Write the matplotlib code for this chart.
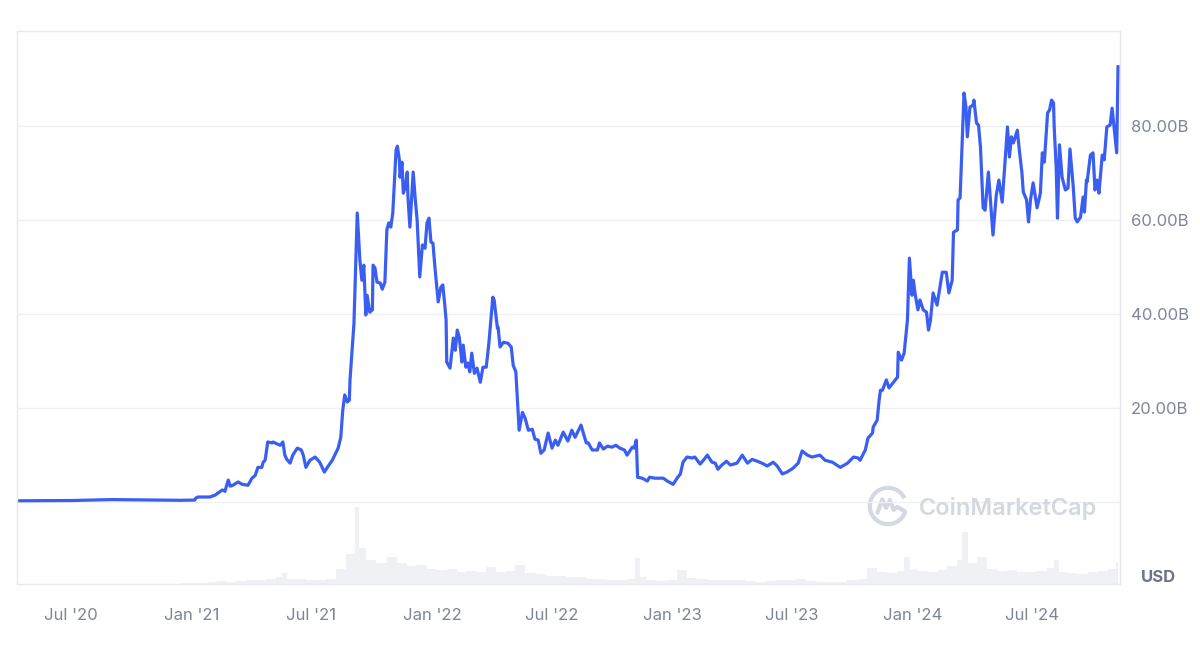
import matplotlib
matplotlib.use("Agg")
import matplotlib.pyplot as plt
import matplotlib.dates as mdates
from matplotlib.patches import Arc
import numpy as np
import pandas as pd

plt.rcParams["font.family"] = ["Inter", "DejaVu Sans"]

# market cap, billions USD
price_dates = [
    "2020-04-10", "2020-07-01", "2020-09-01", "2020-11-01", "2020-12-14", "2021-01-05",
    "2021-01-07", "2021-01-10", "2021-01-28", "2021-02-05", "2021-02-16", "2021-02-20",
    "2021-02-25", "2021-02-28", "2021-03-04", "2021-03-12", "2021-03-18", "2021-03-27",
    "2021-04-02", "2021-04-07", "2021-04-11", "2021-04-17", "2021-04-19", "2021-04-22",
    "2021-04-26", "2021-05-03", "2021-05-04", "2021-05-15", "2021-05-19", "2021-05-22",
    "2021-05-25", "2021-05-30", "2021-06-03", "2021-06-10", "2021-06-16", "2021-06-19",
    "2021-06-23", "2021-06-29", "2021-07-07", "2021-07-14", "2021-07-21", "2021-07-27",
    "2021-08-02", "2021-08-08", "2021-08-11", "2021-08-15", "2021-08-18", "2021-08-21",
    "2021-08-25", "2021-08-28", "2021-08-29", "2021-09-01", "2021-09-04", "2021-09-09",
    "2021-09-13", "2021-09-16", "2021-09-19", "2021-09-22", "2021-09-24", "2021-09-28",
    "2021-10-02", "2021-10-03", "2021-10-06", "2021-10-09", "2021-10-14", "2021-10-17",
    "2021-10-21", "2021-10-24", "2021-10-27", "2021-10-30", "2021-11-02", "2021-11-07",
    "2021-11-09", "2021-11-12", "2021-11-13", "2021-11-16", "2021-11-18", "2021-11-21",
    "2021-11-24", "2021-11-25", "2021-11-28", "2021-12-03", "2021-12-06", "2021-12-09",
    "2021-12-13", "2021-12-17", "2021-12-21", "2021-12-24", "2021-12-27", "2021-12-30",
    "2022-01-02", "2022-01-05", "2022-01-10", "2022-01-14", "2022-01-17", "2022-01-20",
    "2022-01-22", "2022-01-23", "2022-01-28", "2022-02-02", "2022-02-05", "2022-02-08",
    "2022-02-11", "2022-02-15", "2022-02-17", "2022-02-21", "2022-02-24", "2022-02-27",
    "2022-03-02", "2022-03-06", "2022-03-10", "2022-03-15", "2022-03-19", "2022-03-24",
    "2022-03-28", "2022-04-03", "2022-04-05", "2022-04-10", "2022-04-11", "2022-04-14",
    "2022-04-19", "2022-04-26", "2022-05-01", "2022-05-04", "2022-05-08", "2022-05-13",
    "2022-05-18", "2022-05-22", "2022-05-27", "2022-06-02", "2022-06-06", "2022-06-11",
    "2022-06-15", "2022-06-20", "2022-06-26", "2022-07-02", "2022-07-07", "2022-07-11",
    "2022-07-19", "2022-07-26", "2022-08-01", "2022-08-06", "2022-08-15", "2022-08-23",
    "2022-08-26", "2022-09-01", "2022-09-09", "2022-09-12", "2022-09-18", "2022-09-24",
    "2022-10-01", "2022-10-07", "2022-10-13", "2022-10-20", "2022-10-24", "2022-11-01",
    "2022-11-04", "2022-11-07", "2022-11-09", "2022-11-16", "2022-11-24", "2022-11-27",
    "2022-12-06", "2022-12-10", "2022-12-18", "2022-12-24", "2023-01-02", "2023-01-08",
    "2023-01-13", "2023-01-17", "2023-01-23", "2023-01-31", "2023-02-04", "2023-02-12",
    "2023-02-18", "2023-02-23", "2023-03-02", "2023-03-07", "2023-03-11", "2023-03-17",
    "2023-03-24", "2023-03-30", "2023-04-09", "2023-04-17", "2023-04-25", "2023-05-02",
    "2023-05-10", "2023-05-17", "2023-05-25", "2023-06-03", "2023-06-09", "2023-06-17",
    "2023-06-24", "2023-07-03", "2023-07-11", "2023-07-17", "2023-07-25", "2023-08-01",
    "2023-08-13", "2023-08-21", "2023-09-01", "2023-09-13", "2023-09-24", "2023-10-03",
    "2023-10-10", "2023-10-13", "2023-10-21", "2023-10-25", "2023-11-01", "2023-11-02",
    "2023-11-08", "2023-11-11", "2023-11-13", "2023-11-16", "2023-11-22", "2023-11-26",
    "2023-12-09", "2023-12-10", "2023-12-15", "2023-12-19", "2023-12-24", "2023-12-27",
    "2023-12-31", "2024-01-02", "2024-01-05", "2024-01-09", "2024-01-12", "2024-01-17",
    "2024-01-22", "2024-01-25", "2024-01-28", "2024-02-01", "2024-02-07", "2024-02-15",
    "2024-02-21", "2024-02-25", "2024-03-01", "2024-03-03", "2024-03-09", "2024-03-10",
    "2024-03-13", "2024-03-19", "2024-03-22", "2024-03-24", "2024-03-28", "2024-04-02",
    "2024-04-03", "2024-04-07", "2024-04-10", "2024-04-13", "2024-04-17", "2024-04-20",
    "2024-04-25", "2024-05-02", "2024-05-07", "2024-05-11", "2024-05-16", "2024-05-24",
    "2024-05-27", "2024-05-30", "2024-06-02", "2024-06-08", "2024-06-11", "2024-06-15",
    "2024-06-17", "2024-06-22", "2024-06-25", "2024-06-28", "2024-07-02", "2024-07-08",
    "2024-07-13", "2024-07-16", "2024-07-19", "2024-07-24", "2024-07-27", "2024-07-30",
    "2024-08-02", "2024-08-03", "2024-08-06", "2024-08-08", "2024-08-11", "2024-08-15",
    "2024-08-20", "2024-08-24", "2024-08-27", "2024-09-01", "2024-09-04", "2024-09-07",
    "2024-09-12", "2024-09-16", "2024-09-18", "2024-09-21", "2024-09-22", "2024-09-27",
    "2024-10-01", "2024-10-04", "2024-10-07", "2024-10-10", "2024-10-15", "2024-10-18",
    "2024-10-22", "2024-10-27", "2024-10-30", "2024-11-02", "2024-11-06", "2024-11-08",
]
market_cap = [
    0.3, 0.35, 0.55, 0.45, 0.4, 0.45,
    0.9, 1.1, 1.1, 1.5, 2.6, 2.3,
    4.7, 3.4, 3.6, 4.3, 3.8, 3.6,
    5.1, 5.7, 7.4, 7.4, 8.5, 8.9,
    12.8, 12.6, 12.8, 12.1, 12.8, 10.0,
    9.1, 8.3, 10.0, 11.5, 11.1, 10.0,
    7.4, 8.9, 9.6, 8.5, 6.4, 7.7,
    8.9, 10.6, 11.5, 13.8, 19.6, 22.8,
    21.3, 21.7, 26.0, 32.0, 38.0, 61.5,
    51.5, 47.2, 50.4, 39.8, 44.0, 40.4,
    40.9, 50.4, 49.8, 46.8, 46.6, 45.3,
    46.8, 57.9, 59.4, 58.5, 61.5, 74.9,
    75.7, 72.8, 69.1, 72.3, 65.7, 67.0,
    70.2, 64.9, 58.5, 70.2, 64.7, 60.0,
    47.9, 54.7, 54.0, 59.4, 60.4, 55.3,
    55.1, 50.0, 42.6, 45.7, 46.2, 42.0,
    38.7, 29.8, 28.5, 34.9, 32.3, 36.6,
    35.1, 29.8, 33.4, 28.7, 29.6, 27.7,
    31.7, 27.4, 28.5, 25.5, 28.7, 28.7,
    33.8, 43.6, 43.0, 37.0, 37.2, 33.0,
    34.0, 33.8, 33.0, 29.1, 27.7, 15.3,
    19.1, 17.9, 15.3, 15.5, 13.4, 13.2,
    10.4, 11.1, 14.7, 11.5, 13.2, 12.1,
    14.9, 13.0, 15.3, 13.8, 16.4, 12.6,
    12.6, 11.1, 11.1, 12.6, 11.3, 11.9,
    11.7, 12.1, 11.5, 11.1, 10.0, 11.7,
    11.5, 13.2, 5.3, 5.1, 4.5, 5.3,
    5.1, 5.1, 5.1, 4.5, 3.8, 5.1,
    6.0, 8.5, 9.6, 9.4, 9.6, 8.1,
    9.1, 10.0, 8.5, 8.3, 7.0, 7.9,
    8.7, 7.9, 8.3, 10.0, 8.3, 9.1,
    8.7, 8.3, 7.7, 8.5, 7.7, 6.0,
    6.4, 7.2, 8.3, 10.9, 10.0, 9.6,
    10.0, 8.9, 8.5, 7.4, 8.3, 9.6,
    9.4, 8.9, 11.1, 13.6, 14.7, 16.0,
    17.4, 21.7, 23.8, 23.8, 26.0, 24.3,
    26.6, 31.9, 30.2, 31.7, 38.7, 51.9,
    44.0, 47.2, 44.0, 40.9, 43.0, 40.9,
    40.4, 36.6, 38.7, 44.5, 41.9, 48.9,
    48.9, 44.5, 47.2, 57.4, 57.9, 64.3,
    64.7, 87.0, 84.0, 77.7, 84.0, 84.5,
    85.5, 80.6, 80.2, 75.5, 62.6, 62.1,
    70.2, 56.8, 65.3, 68.5, 63.8, 79.8,
    73.4, 77.7, 76.4, 79.1, 74.9, 70.0,
    66.0, 64.3, 59.6, 64.3, 67.9, 62.6,
    65.7, 74.3, 72.3, 82.8, 83.4, 85.5,
    84.9, 79.8, 71.3, 60.4, 76.0, 69.1,
    66.4, 66.8, 75.1, 67.0, 60.4, 59.6,
    60.6, 64.9, 61.7, 68.5, 68.1, 73.8,
    74.3, 66.4, 68.5, 65.7, 73.8, 72.8,
    79.8, 80.2, 83.8, 79.8, 74.3, 92.6,
]

# 24h volume, billions USD (relative heights)
volume_dates = [
    "2020-04-15", "2020-06-01", "2020-08-01", "2020-10-01", "2020-12-01",
    "2021-01-01", "2021-01-15", "2021-02-01", "2021-02-15", "2021-03-01", "2021-03-15",
    "2021-04-01", "2021-04-15", "2021-05-01", "2021-05-15", "2021-05-20", "2021-06-01",
    "2021-06-15", "2021-07-01", "2021-07-15", "2021-08-01", "2021-08-15", "2021-09-01",
    "2021-09-09", "2021-09-15", "2021-10-01", "2021-10-15", "2021-11-01", "2021-11-15",
    "2021-12-01", "2021-12-15", "2022-01-01", "2022-01-15", "2022-02-01", "2022-02-15",
    "2022-03-01", "2022-03-15", "2022-04-01", "2022-04-15", "2022-05-01", "2022-05-12",
    "2022-06-01", "2022-06-15", "2022-07-01", "2022-07-15", "2022-08-01", "2022-08-15",
    "2022-09-01", "2022-09-15", "2022-10-01", "2022-10-15", "2022-11-01", "2022-11-09",
    "2022-11-15", "2022-12-01", "2022-12-15", "2023-01-01", "2023-01-15", "2023-02-01",
    "2023-02-15", "2023-03-01", "2023-03-15", "2023-04-01", "2023-04-15", "2023-05-01",
    "2023-05-15", "2023-06-01", "2023-06-15", "2023-07-01", "2023-07-15", "2023-08-01",
    "2023-08-15", "2023-09-01", "2023-09-15", "2023-10-01", "2023-10-15", "2023-11-01",
    "2023-11-15", "2023-12-01", "2023-12-15", "2023-12-23", "2024-01-01", "2024-01-15",
    "2024-02-01", "2024-02-15", "2024-03-01", "2024-03-15", "2024-03-18", "2024-04-01",
    "2024-04-15", "2024-05-01", "2024-05-15", "2024-06-01", "2024-06-15", "2024-07-01",
    "2024-07-15", "2024-08-01", "2024-08-05", "2024-08-15", "2024-09-01", "2024-09-15",
    "2024-10-01", "2024-10-15", "2024-11-01", "2024-11-08",
]
volume = [
    0.02, 0.02, 0.03, 0.03, 0.05,
    0.1, 0.2, 0.3, 0.5, 0.4, 0.5,
    0.6, 0.7, 0.8, 1.2, 1.8, 0.9,
    0.8, 0.7, 0.6, 0.9, 2.5, 5.0,
    12.8, 6.0, 4.0, 3.5, 4.5, 3.5,
    3.0, 3.2, 2.5, 2.3, 2.5, 2.0,
    2.2, 2.0, 2.8, 2.0, 2.2, 3.2,
    1.8, 1.6, 1.4, 1.3, 1.2, 1.1,
    0.9, 0.8, 0.7, 0.6, 0.8, 4.3,
    1.2, 0.6, 0.5, 0.6, 2.3, 1.0,
    0.8, 0.7, 0.6, 0.6, 0.7, 0.5,
    0.4, 0.5, 0.6, 0.6, 0.8, 0.5,
    0.4, 0.4, 0.4, 0.6, 0.9, 2.6,
    2.0, 1.8, 2.2, 4.5, 2.5, 2.2,
    2.0, 2.3, 3.0, 4.0, 8.7, 3.5,
    4.5, 2.5, 2.2, 2.4, 2.0, 2.0,
    2.2, 2.6, 4.0, 2.0, 1.8, 1.7,
    2.0, 2.2, 2.5, 3.6,
]

y_ticks = [0, 20, 40, 60, 80]
x_ticks = ["2020-07-01", "2021-01-01", "2021-07-01", "2022-01-01", "2022-07-01",
           "2023-01-01", "2023-07-01", "2024-01-01", "2024-07-01"]

W, H = 1200, 655
fig = plt.figure(figsize=(12, 6.55), dpi=100)
fig.patch.set_facecolor("white")
ax = fig.add_axes([17 / W, (H - 584) / H, (1120 - 17) / W, (584 - 31) / H])
vax = ax.twinx()
ax.set_zorder(vax.get_zorder() + 1)
ax.patch.set_visible(False)

pd_dates = pd.to_datetime(price_dates)
vd = pd.to_datetime(volume_dates)

vax.fill_between(vd, volume, step="mid", color="#f0f1f5", linewidth=0)
vax.set_ylim(0, 92)
vax.set_yticks([])
for s in vax.spines.values():
    s.set_visible(False)

ax.plot(pd_dates, market_cap, color="#3b5ef2", lw=2.3, solid_joinstyle="round")

ax.set_xlim(pd.Timestamp("2020-04-10"), pd.Timestamp("2024-11-11"))
ax.set_ylim(-17.4, 100.2)
ax.set_yticks(y_ticks)
ax.set_yticklabels(["" if v == 0 else f"{v:.2f}B" for v in y_ticks])
ax.yaxis.tick_right()
ax.set_xticks(pd.to_datetime(x_ticks))
ax.xaxis.set_major_formatter(mdates.DateFormatter("%b '%y"))
ax.tick_params(axis="both", length=0, labelsize=12, colors="#7d8698")
ax.tick_params(axis="y", pad=8)
ax.tick_params(axis="x", pad=17)
ax.grid(axis="y", color="#eef0f3", lw=1)
ax.set_axisbelow(True)
for s in ax.spines.values():
    s.set_color("#e6e8ec")
    s.set_linewidth(1)

fig.text(1141 / W, 1 - 578 / H, "USD", fontsize=12, fontweight="bold",
         color="#6b7487", va="center", ha="left")

# watermark
fig.text(919 / W, 1 - 508 / H, "CoinMarketCap", fontsize=17, fontweight="semibold",
         color="#d3d8e1", va="center", ha="left")
lax = fig.add_axes([866 / W, (H - 528) / H, 44 / W, 44 / H])
lax.set_xlim(-1.15, 1.15)
lax.set_ylim(-1.15, 1.15)
lax.set_aspect("equal")
lax.axis("off")
lax.add_patch(Arc((0, 0), 1.9, 1.9, theta1=25, theta2=340, color="#d3d8e1", lw=3))
lax.plot([-0.55, -0.3, -0.1, 0.1, 0.3, 0.5, 0.9], [-0.35, 0.35, -0.1, 0.3, -0.2, -0.05, -0.3],
         color="#d3d8e1", lw=3, solid_capstyle="round", solid_joinstyle="round")

fig.savefig("out.png", dpi=100)
